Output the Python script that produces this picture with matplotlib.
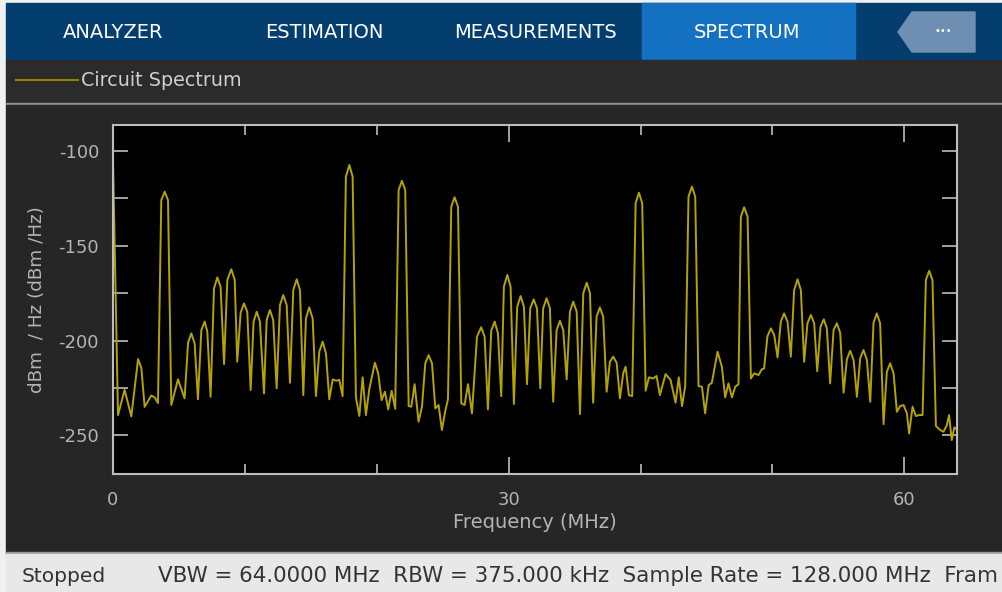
import matplotlib
matplotlib.use("Agg")
import matplotlib.pyplot as plt
from matplotlib.patches import Rectangle, Polygon
from matplotlib.lines import Line2D

# spectrum trace: frequency (MHz) and level (dBm/Hz)
freq = [0.0, 0.38, 0.88, 1.39, 1.9, 2.15, 2.4, 2.9, 3.16, 3.41, 3.66, 3.92, 4.17,
        4.42, 4.93, 5.43, 5.69, 5.94, 6.19, 6.44, 6.7, 6.95, 7.15, 7.4, 7.66, 7.91,
        8.16, 8.42, 8.67, 8.97, 9.23, 9.42, 9.68, 9.93, 10.18, 10.44, 10.66, 10.9,
        11.14, 11.45, 11.65, 11.9, 12.15, 12.41, 12.66, 12.91, 13.17, 13.42, 13.67,
        13.93, 14.18, 14.43, 14.63, 14.88, 15.14, 15.39, 15.64, 15.9, 16.15, 16.4,
        16.66, 16.91, 17.16, 17.41, 17.66, 17.92, 18.17, 18.42, 18.68, 18.93, 19.18,
        19.43, 19.86, 20.11, 20.37, 20.62, 20.87, 21.13, 21.4, 21.66, 21.91, 22.16,
        22.42, 22.62, 22.87, 23.17, 23.43, 23.68, 23.93, 24.19, 24.44, 24.69, 24.94,
        25.2, 25.4, 25.65, 25.9, 26.16, 26.41, 26.66, 26.92, 27.22, 27.6, 27.92,
        28.18, 28.43, 28.68, 28.94, 29.19, 29.44, 29.64, 29.9, 30.15, 30.4, 30.65,
        30.91, 31.16, 31.39, 31.64, 31.9, 32.15, 32.4, 32.62, 32.88, 33.13, 33.38,
        33.64, 33.89, 34.14, 34.4, 34.65, 34.9, 35.16, 35.41, 35.66, 35.92, 36.17,
        36.41, 36.67, 36.92, 37.17, 37.43, 37.68, 37.93, 38.19, 38.44, 38.69, 38.87,
        39.12, 39.37, 39.63, 39.88, 40.13, 40.39, 40.64, 40.96, 41.22, 41.47, 41.9,
        42.28, 42.66, 42.9, 43.15, 43.39, 43.64, 43.9, 44.15, 44.4, 44.66, 44.9,
        45.17, 45.41, 45.84, 46.17, 46.42, 46.67, 46.93, 47.18, 47.43, 47.61, 47.86,
        48.12, 48.37, 48.62, 48.95, 49.2, 49.37, 49.63, 49.89, 50.14, 50.39, 50.64,
        50.89, 51.15, 51.4, 51.65, 51.91, 52.16, 52.41, 52.66, 52.92, 53.17, 53.4,
        53.65, 53.9, 54.13, 54.38, 54.64, 54.89, 55.14, 55.4, 55.65, 55.9, 56.16,
        56.41, 56.66, 56.91, 57.17, 57.42, 57.67, 57.92, 58.17, 58.43, 58.68, 58.93,
        59.19, 59.44, 59.69, 59.95, 60.2, 60.37, 60.63, 60.88, 61.13, 61.39, 61.64,
        61.89, 62.14, 62.4, 62.72, 62.98, 63.23, 63.4, 63.6, 63.8, 64.0]
level = [-105, -239.3, -226, -240, -209.8, -214.5, -235, -229, -230, -233, -125.9, -121.5, -125.9,
         -234, -220.5, -230.5, -201.2, -196.2, -201.5, -231, -194.5, -190, -195.3, -229.7, -172.5, -166.7,
         -171.6, -212.4, -168, -162.4, -168, -211.2, -185.3, -180.4, -184.8, -226.1, -190, -184.8,
         -190, -227.9, -189.2, -183.9, -189.2, -225.2, -181.3, -176, -181.3, -222.3, -173.4,
         -167.7, -173.4, -228.8, -188.3, -182.5, -188.3, -229.3, -205.9, -200.6, -206.8, -231,
         -220.5, -221.2, -220.8, -229.3, -113.5, -107.4, -113.5, -230, -239.8, -219.4, -239.3,
         -225.8, -211.7, -217.3, -231.4, -227, -236.3, -226.5, -236, -120.6, -115.7, -120.6,
         -234.6, -234.9, -223, -242.8, -234.9, -212, -207.7, -212, -235.8, -234, -247.2,
         -237, -231, -129.4, -124.4, -129.4, -233.1, -234, -223, -238.4, -198, -193,
         -198, -236.3, -194.8, -190, -196.2, -229.3, -171.6, -165.4, -171.6, -233.5, -182.2,
         -176.5, -182.2, -223, -183, -178.3, -183, -225.2, -183, -177.7, -183, -232.3,
         -194.5, -189.6, -194.5, -220.5, -184.8, -179.5, -184.8, -238.8, -175.1, -169.5, -175.1,
         -232.8, -187.4, -182.5, -187.4, -227, -211.2, -208.5, -211.7, -230.5, -217.3, -213.8,
         -228.8, -229.3, -127.6, -122, -127.6, -226.5, -219.4, -220, -218.7, -228.8, -217.7,
         -220.8, -232.8, -219.4, -234.6, -224, -124.1, -118.8, -124.1, -224, -224.4, -238.4,
         -223.5, -222.3, -205.9, -213.8, -230, -222.6, -230, -224.4, -223, -134.7, -129.7,
         -134.7, -220, -217.3, -218.2, -215.2, -214.7, -197.6, -193.6, -197.1, -208.9, -190,
         -185.7, -190, -208.5, -173.4, -167.7, -173.4, -211.2, -190.9, -186.5, -190.9, -216.2,
         -192.7, -188.8, -193.6, -222.6, -194.5, -190.9, -195.9, -227.5, -209.9, -205.4, -210.3,
         -229.7, -209.4, -205, -210.3, -232.3, -190.6, -185.7, -190.9, -244.1, -216.5, -212,
         -217.3, -237.6, -234.6, -234, -238.4, -249, -234.9, -239.8, -239.3, -239.3, -168.1,
         -163.2, -168.1, -245.1, -247.2, -248.1, -244.6, -239.3, -252.5, -245.8, -247]

tabs = ['ANALYZER', 'ESTIMATION', 'MEASUREMENTS', 'SPECTRUM']
tab_x = [113, 324, 536, 747]
y_ticks = [-250, -225, -200, -175, -150, -125, -100]
x_major = [0, 30, 60]
x_minor = [10, 20, 40, 50]

W, H = 1002, 592
plt.rcParams['font.family'] = 'DejaVu Sans'
plt.rcParams['axes.unicode_minus'] = False

fig = plt.figure(figsize=(W / 100, H / 100), dpi=100, facecolor='#f0f0f0')

# helpers working in screen pixels (origin top left)
def box(x, y, w, h, color):
    fig.patches.append(Rectangle((x / W, 1 - (y + h) / H), w / W, h / H,
                                 transform=fig.transFigure, color=color, zorder=-5))

def txt(x, y, s, **kw):
    fig.text(x / W, 1 - y / H, s, **kw)

# window chrome
box(6, 3, W - 6, 57, '#033e6f')       # tab strip
box(642, 3, 213, 57, '#1470c0')       # selected tab
box(6, 60, W - 6, 44, '#2b2b2b')      # legend row
box(6, 103, W - 6, 2, '#8e8e8e')      # separator
box(6, 105, W - 6, 448, '#262626')    # plot panel
box(6, 552, W - 6, 2, '#9a9a9a')
box(6, 554, W - 6, 38, '#e8e8e8')     # status bar

pts = [(898, 32), (912, 12), (975, 12), (975, 52), (912, 52)]
fig.patches.append(Polygon([(px / W, 1 - py / H) for px, py in pts], closed=True,
                           transform=fig.transFigure, color='#6e8fb1', zorder=-4))
txt(943, 31, '\u2022\u2022\u2022', color='white', fontsize=7, ha='center', va='center')

for name, x in zip(tabs, tab_x):
    txt(x, 32, name, color='white', fontsize=14, ha='center', va='center')

# legend
fig.add_artist(Line2D([16 / W, 78 / W], [1 - 80 / H, 1 - 80 / H], color='#8f8600', lw=1.5))
txt(81, 80, 'Circuit Spectrum', color='#cfcfcf', fontsize=13.8, va='center')

# status bar (the window cuts the last field off)
txt(22, 576, 'Stopped', color='#333333', fontsize=14.6, va='center')
txt(158, 576, 'VBW = 64.0000 MHz  RBW = 375.000 kHz  Sample Rate = 128.000 MHz  Fram',
    color='#333333', fontsize=15.4, va='center')

# spectrum axes
ax = fig.add_axes([113 / W, 1 - 474 / H, 844 / W, 349 / H], facecolor='black')
ax.set_zorder(2)
ax.plot(freq, level, color='#b5a300', lw=1.4)
ax.set_xlim(0, 64)
ax.set_ylim(-270.4, -86.3)
ax.set_yticks(y_ticks)
ax.set_yticklabels([str(v) if v % 50 == 0 else '' for v in y_ticks])
ax.set_xticks(x_major)
ax.set_xticks(x_minor, minor=True)
for s in ax.spines.values():
    s.set_color('#bdbdbd')
    s.set_linewidth(1.5)
ax.tick_params(axis='both', which='both', direction='in', top=True, right=True,
               color='#bdbdbd', labelcolor='#b4b4b4', labelsize=13, width=1.2)
ax.tick_params(axis='y', which='major', length=11, pad=10)
ax.tick_params(axis='x', which='major', length=12, pad=12)
ax.tick_params(axis='x', which='minor', length=7)

ax.set_xlabel('Frequency (MHz)', color='#b4b4b4', fontsize=14)
ax.xaxis.set_label_coords(0.5, -0.112)
ax.set_ylabel('dBm  / Hz (dBm /Hz)', color='#b4b4b4', fontsize=13.2)
ax.yaxis.set_label_coords(-0.079, 0.5)

fig.savefig('out.png', dpi=100, facecolor=fig.get_facecolor())
